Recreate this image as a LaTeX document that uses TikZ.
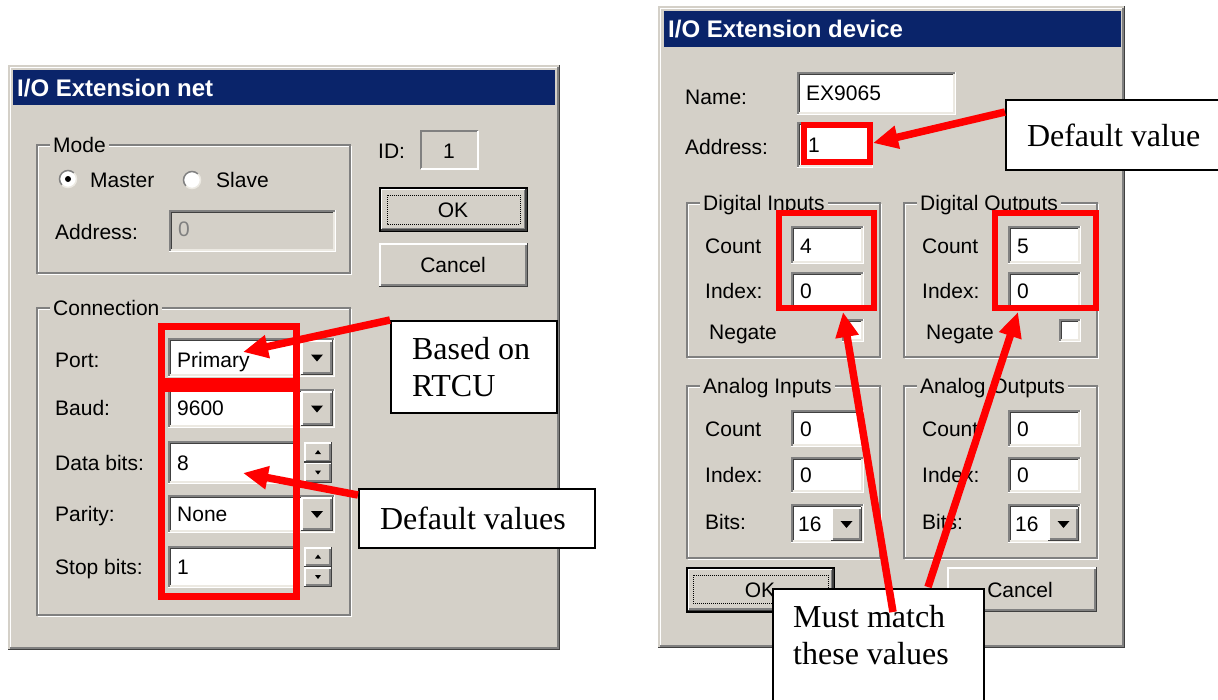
\documentclass[tikz,border=0pt]{standalone}
\usepackage{fontspec}
\setmainfont{Liberation Serif}
\setsansfont{Liberation Sans}
\usetikzlibrary{arrows.meta, calc, positioning}

\definecolor{winbg}{HTML}{D4D0C8}
\definecolor{wintitle}{HTML}{0A246A}
\definecolor{winshadow}{HTML}{808080}
\definecolor{windark}{HTML}{404040}
\definecolor{winlight}{HTML}{ECE9E2}

\tikzset{
    lbl/.style = {anchor = west, inner sep = 0pt, text height = 15pt, text depth = 0pt,
                  font = \sffamily\fontsize{21}{25}\selectfont},
    wtitle/.style = {anchor = west, inner sep = 0pt, text = white, text height = 17pt, text depth = 0pt,
                  font = \sffamily\bfseries\fontsize{24}{28}\selectfont},
    callout/.style = {draw = black, line width = 2pt, fill = white, anchor = north west,
                  inner xsep = 21pt, inner ysep = 0pt, align = flush left,
                  font = \rmfamily\fontsize{32}{37}\selectfont},
    redbox/.style = {draw = red, line width = 7pt},
    redarrow/.style = {red, line width = 7.5pt, -{Triangle[length = 25pt, width = 22pt]}},
}

% sunken white field: [fill]{x1}{y1}{x2}{y2}
\newcommand{\sunkenbox}[5][white]{%
    \fill[#1] (#2,#3) rectangle (#4,#5);
    \draw[winshadow, line width = 1.5pt] (#2+0.75,#5) -- (#2+0.75,#3+0.75) -- (#4,#3+0.75);
    \draw[windark, line width = 1.5pt] (#2+2.25,#5-1.5) -- (#2+2.25,#3+2.25) -- (#4-1.5,#3+2.25);
    \draw[white, line width = 1.5pt] (#2,#5-0.75) -- (#4-0.75,#5-0.75) -- (#4-0.75,#3);
    \draw[winlight, line width = 1.5pt] (#2+1.5,#5-2.25) -- (#4-2.25,#5-2.25) -- (#4-2.25,#3+1.5);
}
% raised button
\newcommand{\winbutton}[4]{%
    \fill[winbg] (#1,#2) rectangle (#3,#4);
    \draw[white, line width = 1.5pt] (#1+0.75,#4) -- (#1+0.75,#2+0.75) -- (#3,#2+0.75);
    \draw[windark, line width = 1.5pt] (#1,#4-0.75) -- (#3-0.75,#4-0.75) -- (#3-0.75,#2);
    \draw[winshadow, line width = 1.5pt] (#1+1.5,#4-2.25) -- (#3-2.25,#4-2.25) -- (#3-2.25,#2+1.5);
}
% dialog window
\newcommand{\winframe}[4]{%
    \fill[winbg] (#1,#2) rectangle (#3,#4);
    \draw[white, line width = 1.5pt] (#1+2.25,#4-2) -- (#1+2.25,#2+2.25) -- (#3-2,#2+2.25);
    \draw[windark, line width = 1.5pt] (#1,#4-0.75) -- (#3-0.75,#4-0.75) -- (#3-0.75,#2);
    \draw[winshadow, line width = 1.5pt] (#1+1.5,#4-2.25) -- (#3-2.25,#4-2.25) -- (#3-2.25,#2+1.5);
}
% etched group box: {name}{x1}{y1}{x2}{y2}{label}
\newcommand{\groupbox}[6]{%
    \draw[white, line width = 1.5pt] (#2+1.5,#3+1.5) rectangle (#4+1.5,#5+1.5);
    \draw[winshadow, line width = 1.5pt] (#2,#3) rectangle (#4,#5);
    \node[lbl, fill = winbg, inner xsep = 3pt] (#1) at (#2+13,#3) {#6};
}

\begin{document}
\begin{tikzpicture}[x = 1pt, y = -1pt]

    \clip[use as bounding box] (0,0) rectangle (1218,699);
    \fill[white] (0,0) rectangle (1218,699);

    %% ---- I/O Extension net
    \winframe{8}{65}{560}{650}
    \fill[wintitle] (13,70) rectangle (555,105);
    \node[wtitle] (netTitle) at (17,88) {I/O Extension net};

    \groupbox{mode}{37}{145}{350}{273}{Mode}
    \foreach \CX/\CY in {68/179, 192/180}{
        \fill[white] (\CX,\CY) circle (8.5);
        \draw[winshadow, line width = 1.5pt] (\CX,\CY) ++(135:8.5) arc (135:315:8.5);
        \draw[winlight, line width = 1.5pt] (\CX,\CY) ++(-45:8.5) arc (-45:135:8.5);
    }
    \fill (68,179) circle (3);
    \node[lbl] (master) at (90,180) {Master};
    \node[lbl] (slave) at (216,180) {Slave};
    \node[lbl] (netAddr) at (55,232) {Address:};
    \sunkenbox[winbg]{169}{210}{336}{252}
    \node[lbl, text = winshadow] (netAddrVal) at (178,229) {0};

    \node[lbl] (idLbl) at (378,151) {ID:};
    \draw[winshadow, line width = 1.5pt] (421,169) -- (421,131) -- (478,131);
    \draw[white, line width = 1.5pt] (421,169) -- (478,169) -- (478,131);
    \node[lbl, anchor = center] (idVal) at (449,151) {1};

    \winbutton{380.5}{188.5}{526.5}{230.5}
    \draw[black, line width = 1.5pt] (379.75,187.75) rectangle (527.25,231.25);
    \draw[densely dotted, line width = 1pt] (387,195) rectangle (520,224);
    \node[lbl, anchor = center] (netOk) at (453,210) {OK};
    \winbutton{379}{243}{528}{287}
    \node[lbl, anchor = center] (netCancel) at (453,265) {Cancel};

    \groupbox{conn}{37}{308}{350}{615}{Connection}
    \foreach \Y/\TOP/\BOT/\R/\LBL/\VAL [count = \i] in
        {360/338/377/335/Port:/Primary, 408/389/428/335/Baud:/9600,
         463/441/484/299/Data bits:/8, 514/495/533/335/Parity:/None,
         567/546/588/299/Stop bits:/1}{
        \node[lbl] (conn\i) at (55,\Y) {\LBL};
        \sunkenbox{168}{\TOP}{\R}{\BOT}
        \node[lbl] (connVal\i) at (177,\Y) {\VAL};
    }
    \foreach \TOP/\BOT [evaluate = \TOP as \MID using (\TOP+\BOT)/2] in {338/377, 389/428, 495/533}{
        \winbutton{301}{\TOP+2}{333}{\BOT-2}
        \fill (311,\MID-3) -- (323,\MID-3) -- (317,\MID+4) -- cycle;
    }
    \foreach \TOP/\BOT [evaluate = \TOP as \MID using (\TOP+\BOT)/2] in {441/484, 546/588}{
        \winbutton{304}{\TOP+1}{332}{\MID}
        \winbutton{304}{\MID}{332}{\BOT-1}
        \fill (315,\MID-8.5) -- (321,\MID-8.5) -- (318,\MID-12.5) -- cycle;
        \fill (315,\MID+8) -- (321,\MID+8) -- (318,\MID+12) -- cycle;
    }

    \draw[redbox] (161.5,326.5) rectangle (296.5,381.5);
    \draw[redbox] (161.5,388.5) rectangle (296.5,596);

    %% ---- I/O Extension device
    \winframe{658}{6}{1125}{648}
    \fill[wintitle] (664,11) rectangle (1121,47);
    \node[wtitle] (devTitle) at (668,29) {I/O Extension device};

    \node[lbl] (devName) at (685,97) {Name:};
    \sunkenbox{797}{72}{956}{115}
    \node[lbl] (devNameVal) at (806,93) {EX9065};
    \node[lbl] (devAddr) at (685,147) {Address:};
    \sunkenbox{797}{122}{873}{168}
    \node[lbl] (devAddrVal) at (808,145) {1};
    \draw[redbox, line width = 6pt] (804,125) rectangle (870,162);

    \foreach \G/\X/\LBL/\CNT in {dIn/687/Digital Inputs/4, dOut/904/Digital Outputs/5}{
        \groupbox{\G}{\X}{203}{\X+193}{357}{\LBL}
        \node[lbl] (\G-count) at (\X+18,246) {Count};
        \sunkenbox{\X+104}{226}{\X+177}{264}
        \node[lbl] (\G-countVal) at (\X+113,246) {\CNT};
        \node[lbl] (\G-index) at (\X+18,291) {Index:};
        \sunkenbox{\X+104}{272}{\X+177}{309}
        \node[lbl] (\G-indexVal) at (\X+113,291) {0};
        \node[lbl] (\G-neg) at (\X+22,332) {Negate};
        \sunkenbox{\X+155}{319}{\X+177}{342}
    }
    \foreach \G/\X/\LBL in {aIn/687/Analog Inputs, aOut/904/Analog Outputs}{
        \groupbox{\G}{\X}{386}{\X+193}{558}{\LBL}
        \node[lbl] (\G-count) at (\X+18,429) {Count};
        \sunkenbox{\X+104}{410}{\X+177}{447}
        \node[lbl] (\G-countVal) at (\X+113,429) {0};
        \node[lbl] (\G-index) at (\X+18,475) {Index:};
        \sunkenbox{\X+104}{457}{\X+177}{493}
        \node[lbl] (\G-indexVal) at (\X+113,475) {0};
        \node[lbl] (\G-bits) at (\X+18,522) {Bits:};
        \sunkenbox{\X+104}{504}{\X+177}{543}
        \node[lbl] (\G-bitsVal) at (\X+111,524) {16};
        \winbutton{\X+144}{507}{\X+175}{541}
        \fill (\X+153.5,521) -- (\X+165.5,521) -- (\X+159.5,528) -- cycle;
    }

    \winbutton{687.5}{568.5}{833.5}{611}
    \draw[black, line width = 1.5pt] (686.75,567.75) rectangle (834.25,611.75);
    \draw[densely dotted, line width = 1pt] (693,575) rectangle (828,603);
    \node[lbl, anchor = center] (devOk) at (760,590) {OK};
    \winbutton{947}{567}{1097}{612}
    \node[lbl, anchor = center] (devCancel) at (1020,590) {Cancel};

    \draw[redbox, line width = 6pt] (779,213) rectangle (874,308);
    \draw[redbox, line width = 6pt] (995,213) rectangle (1096,308);

    %% ---- callouts
    \coordinate (portTip) at (243,352);
    \coordinate (dataTip) at (243,473);
    \coordinate (addrTip) at (873,143);
    \coordinate (diTip) at (843,312);
    \coordinate (doTip) at (1018,312);

    \node[callout, minimum width = 166pt, minimum height = 92pt, text width = 124pt]
        (rtcu) at (390,320) {Based on\\RTCU};
    \node[callout, minimum width = 236pt, minimum height = 59pt, text width = 194pt]
        (defv) at (358,488) {Default values};
    \node[callout, minimum width = 217pt, minimum height = 70pt, text width = 200pt]
        (defv1) at (1005,99) {Default value};
    \node[callout, minimum width = 211pt, minimum height = 140pt] (must) at (772,588) {};

    \draw[redarrow] (rtcu.north west) -- (portTip);
    \draw[redarrow] ([yshift = -7pt]defv.north west) -- (dataTip);
    \draw[redarrow] ([yshift = -13pt]defv1.north west) -- (addrTip);
    \draw[redarrow] ($(must.north west)+(121,24)$) -- (diTip);
    \draw[redarrow] ($(must.north west)+(156,-1)$) -- (doTip);

    \node[anchor = north west, inner sep = 0pt, align = flush left, font = \rmfamily\fontsize{32}{37}\selectfont]
        (mustTxt) at ($(must.north west)+(21,17)$) {Must match\\these values};

\end{tikzpicture}
\end{document}
